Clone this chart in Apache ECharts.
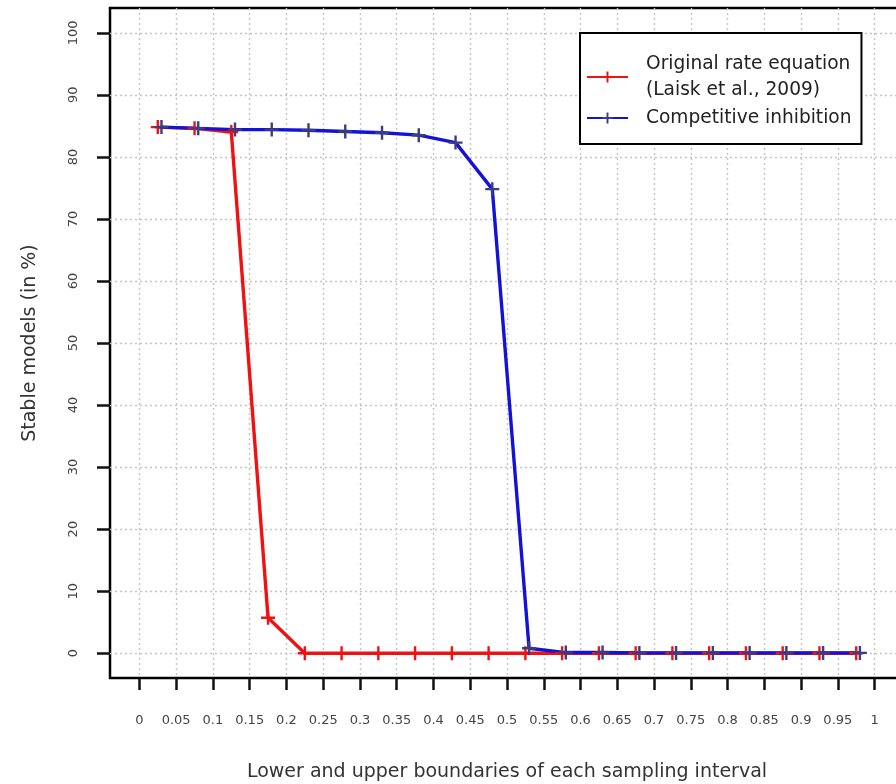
<!DOCTYPE html>
<html>
<head>
<meta charset="utf-8">
<title>Stable models</title>
<script src="https://cdn.jsdelivr.net/npm/echarts@6/dist/echarts.min.js"></script>
<style>
  html, body { margin: 0; padding: 0; background: #fff; }
  #chart { width: 896px; height: 784px; }
</style>
</head>
<body>
<div id="chart"></div>
<script>
// tick labels
const xTicks = [0, 0.05, 0.1, 0.15, 0.2, 0.25, 0.3, 0.35, 0.4, 0.45, 0.5,
  0.55, 0.6, 0.65, 0.7, 0.75, 0.8, 0.85, 0.9, 0.95, 1]
const yTicks = [0, 10, 20, 30, 40, 50, 60, 70, 80, 90, 100]

// original rate equation (red)
const originalX = [0.025, 0.075, 0.125, 0.175, 0.225, 0.275, 0.325, 0.375, 0.425, 0.475,
  0.525, 0.575, 0.625, 0.675, 0.725, 0.775, 0.825, 0.875, 0.925, 0.975]
const originalY = [84.8, 84.6, 84.0, 5.7, 0, 0, 0, 0, 0, 0,
  0, 0, 0, 0, 0, 0, 0, 0, 0, 0]

// competitive inhibition (blue)
const competitiveX = [0.03, 0.08, 0.13, 0.18, 0.23, 0.28, 0.33, 0.38, 0.43, 0.48,
  0.53, 0.58, 0.63, 0.68, 0.73, 0.78, 0.83, 0.88, 0.93, 0.98]
const competitiveY = [84.8, 84.6, 84.4, 84.4, 84.3, 84.1, 83.9, 83.5, 82.3, 74.8,
  0.8, 0.1, 0.1, 0.05, 0.05, 0.05, 0.05, 0.05, 0.05, 0.05]

const seriesNames = ["Original rate equation", "Competitive inhibition"]
const legendLabels = ["Original rate equation\n(Laisk et al., 2009)", "Competitive inhibition"]

const FONT = "DejaVu Sans"
const PLUS = "path://M-1.2,-7H1.2V7H-1.2Z M-7,-1.2H7V1.2H-7Z"

const toPairs = (xs, ys) => xs.map((x, i) => [x, ys[i]])

const chart = echarts.init(document.getElementById("chart"))

const axisCommon = {
  type: "value",
  axisLine: { show: false, onZero: false },
  axisTick: {
    show: true,
    inside: false,
    lineStyle: { color: "#111", width: 2.5 }
  },
  splitLine: {
    show: true,
    lineStyle: { color: "#c4c4c4", width: 1.4, type: [2, 3] }
  },
  axisLabel: { color: "#444", fontFamily: FONT, fontSize: 13 },
  nameLocation: "middle",
  nameTextStyle: { color: "#333", fontFamily: FONT, fontSize: 19 }
}

chart.setOption({
  animation: false,
  backgroundColor: "#fff",
  grid: {
    left: 110,
    top: 8,
    right: -8,
    bottom: 106,
    outerBoundsMode: "none",
    show: true,
    borderColor: "#000",
    borderWidth: 2.5,
    backgroundColor: "transparent"
  },
  xAxis: {
    ...axisCommon,
    min: -0.04,
    max: 1.04,
    axisTick: { ...axisCommon.axisTick, length: 12, customValues: xTicks },
    axisLabel: { ...axisCommon.axisLabel, margin: 36, customValues: xTicks },
    name: "Lower and upper boundaries of each sampling interval",
    nameGap: 85
  },
  yAxis: {
    ...axisCommon,
    min: -4,
    max: 104,
    axisTick: { ...axisCommon.axisTick, length: 13, customValues: yTicks },
    axisLabel: { ...axisCommon.axisLabel, margin: 30, rotate: 90, customValues: yTicks },
    name: "Stable models (in %)",
    nameGap: 70
  },
  legend: {
    orient: "vertical",
    left: 580,
    top: 33,
    data: seriesNames,
    itemWidth: 41,
    itemHeight: 14,
    itemGap: 2,
    padding: [18, 10, 13, 6],
    borderColor: "#000",
    borderWidth: 2,
    backgroundColor: "#fff",
    formatter: name => legendLabels[seriesNames.indexOf(name)],
    textStyle: {
      color: "#222",
      fontFamily: FONT,
      fontSize: 18.6,
      lineHeight: 26,
      padding: [0, 0, 0, 13]
    }
  },
  series: [
    {
      name: seriesNames[0],
      type: "line",
      data: toPairs(originalX, originalY),
      symbol: PLUS,
      symbolSize: 14,
      showAllSymbol: true,
      lineStyle: { color: "#f01212", width: 3.4 },
      itemStyle: { color: "#f01212" }
    },
    {
      name: seriesNames[1],
      type: "line",
      data: toPairs(competitiveX, competitiveY),
      symbol: PLUS,
      symbolSize: 14,
      showAllSymbol: true,
      lineStyle: { color: "#1212d8", width: 3.4 },
      itemStyle: { color: "#3c3c80" }
    }
  ]
})

window.addEventListener("resize", () => {
  chart && chart.resize()
})
</script>
</body>
</html>
